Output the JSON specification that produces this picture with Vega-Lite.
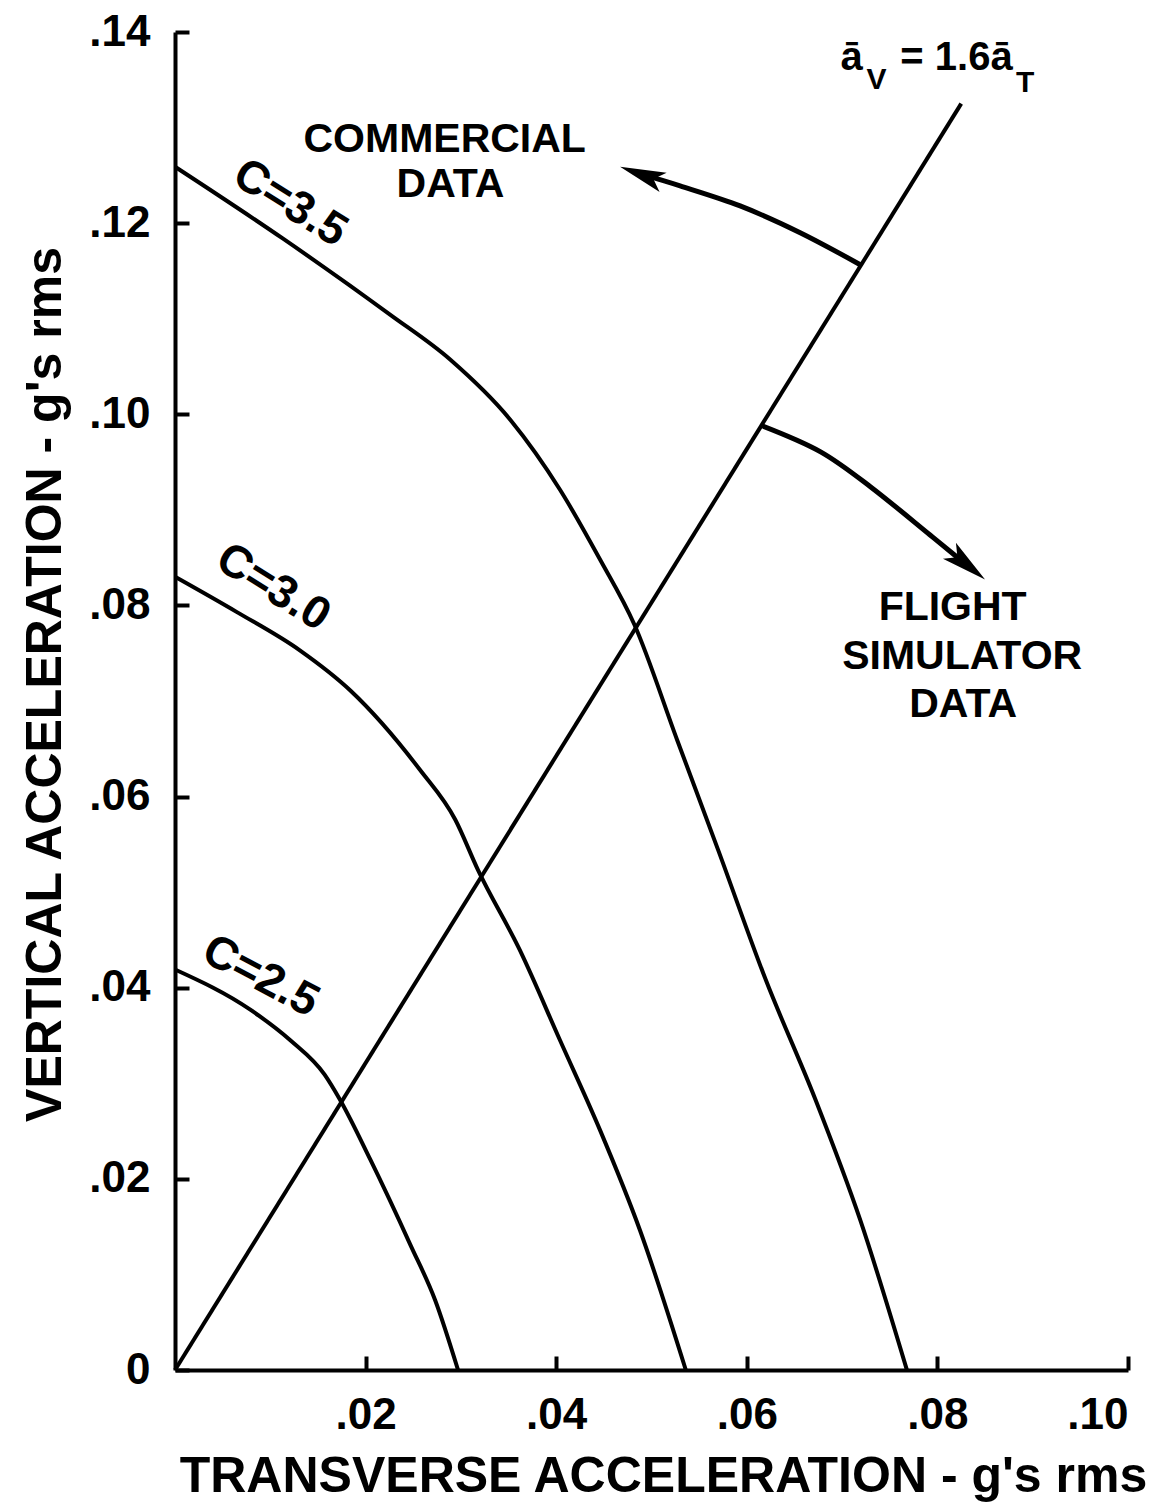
{
  "$schema": "https://vega.github.io/schema/vega-lite/v6.json",
  "autosize": {"type": "none"},
  "padding": {"left": 175, "top": 32, "right": 46, "bottom": 136},
  "width": 953,
  "height": 1338,
  "background": "white",
  "config": {
    "view": {"stroke": null},
    "font": "Liberation Sans",
    "axis": {
      "grid": false,
      "domainColor": "black",
      "domainWidth": 4,
      "tickColor": "black",
      "tickWidth": 4,
      "tickSize": -14,
      "labelColor": "black",
      "labelFont": "Liberation Sans",
      "labelFontWeight": "bold",
      "labelFontSize": 44,
      "titleColor": "black",
      "titleFont": "Liberation Sans",
      "titleFontWeight": "bold",
      "titleFontSize": 50
    },
    "text": {"font": "Liberation Sans", "fontWeight": "bold", "color": "black"}
  },
  "datasets": {
    "curves": [
      {"series": "C=3.5", "ord": 1, "x": 0, "y": 0.1259},
      {"series": "C=3.5", "ord": 2, "x": 0.0113, "y": 0.1184},
      {"series": "C=3.5", "ord": 3, "x": 0.0226, "y": 0.1104},
      {"series": "C=3.5", "ord": 4, "x": 0.0289, "y": 0.1057},
      {"series": "C=3.5", "ord": 5, "x": 0.0352, "y": 0.0994},
      {"series": "C=3.5", "ord": 6, "x": 0.0404, "y": 0.0921},
      {"series": "C=3.5", "ord": 7, "x": 0.0446, "y": 0.0848},
      {"series": "C=3.5", "ord": 8, "x": 0.0482, "y": 0.078},
      {"series": "C=3.5", "ord": 9, "x": 0.0527, "y": 0.0659},
      {"series": "C=3.5", "ord": 10, "x": 0.057, "y": 0.0544},
      {"series": "C=3.5", "ord": 11, "x": 0.062, "y": 0.0408},
      {"series": "C=3.5", "ord": 12, "x": 0.0672, "y": 0.0283},
      {"series": "C=3.5", "ord": 13, "x": 0.0719, "y": 0.0157},
      {"series": "C=3.5", "ord": 14, "x": 0.0768, "y": 0},
      {"series": "C=3.0", "ord": 1, "x": 0, "y": 0.083},
      {"series": "C=3.0", "ord": 2, "x": 0.0065, "y": 0.0793},
      {"series": "C=3.0", "ord": 3, "x": 0.0131, "y": 0.0753},
      {"series": "C=3.0", "ord": 4, "x": 0.0184, "y": 0.0711},
      {"series": "C=3.0", "ord": 5, "x": 0.0257, "y": 0.0628},
      {"series": "C=3.0", "ord": 6, "x": 0.0294, "y": 0.0576},
      {"series": "C=3.0", "ord": 7, "x": 0.0318, "y": 0.0523},
      {"series": "C=3.0", "ord": 8, "x": 0.0362, "y": 0.0439},
      {"series": "C=3.0", "ord": 9, "x": 0.0404, "y": 0.0345},
      {"series": "C=3.0", "ord": 10, "x": 0.0446, "y": 0.0251},
      {"series": "C=3.0", "ord": 11, "x": 0.0488, "y": 0.0146},
      {"series": "C=3.0", "ord": 12, "x": 0.0536, "y": 0},
      {"series": "C=2.5", "ord": 1, "x": 0, "y": 0.0419},
      {"series": "C=2.5", "ord": 2, "x": 0.0079, "y": 0.0377},
      {"series": "C=2.5", "ord": 3, "x": 0.0121, "y": 0.0345},
      {"series": "C=2.5", "ord": 4, "x": 0.0157, "y": 0.0309},
      {"series": "C=2.5", "ord": 5, "x": 0.0173, "y": 0.0283},
      {"series": "C=2.5", "ord": 6, "x": 0.0205, "y": 0.022},
      {"series": "C=2.5", "ord": 7, "x": 0.0247, "y": 0.0131},
      {"series": "C=2.5", "ord": 8, "x": 0.0273, "y": 0.0073},
      {"series": "C=2.5", "ord": 9, "x": 0.0297, "y": 0},
      {"series": "aV=1.6aT", "ord": 1, "x": 0, "y": 0},
      {"series": "aV=1.6aT", "ord": 2, "x": 0.0825, "y": 0.1325}
    ],
    "arrows": [
      {"arrow": "commercial", "ord": 1, "x": 0.072, "y": 0.1156},
      {"arrow": "commercial", "ord": 2, "x": 0.0656, "y": 0.119},
      {"arrow": "commercial", "ord": 3, "x": 0.0593, "y": 0.1218},
      {"arrow": "commercial", "ord": 4, "x": 0.053, "y": 0.1239},
      {"arrow": "commercial", "ord": 5, "x": 0.049, "y": 0.1251},
      {"arrow": "flight", "ord": 1, "x": 0.0616, "y": 0.0988},
      {"arrow": "flight", "ord": 2, "x": 0.0677, "y": 0.0961},
      {"arrow": "flight", "ord": 3, "x": 0.073, "y": 0.0924},
      {"arrow": "flight", "ord": 4, "x": 0.0792, "y": 0.0874},
      {"arrow": "flight", "ord": 5, "x": 0.0825, "y": 0.0847}
    ],
    "tips": [
      {"arrow": "commercial", "x": 0.0467, "y": 0.1259},
      {"arrow": "flight", "x": 0.085, "y": 0.0827}
    ],
    "labels": [
      {"text": "COMMERCIAL", "x": 0.0283, "y": 0.1287},
      {"text": "DATA", "x": 0.0289, "y": 0.124},
      {"text": "FLIGHT", "x": 0.0816, "y": 0.0797},
      {"text": "SIMULATOR", "x": 0.0826, "y": 0.0746},
      {"text": "DATA", "x": 0.0827, "y": 0.0696}
    ],
    "curveLabels": [
      {"text": "C=3.5", "x": 0.0121, "y": 0.1221},
      {"text": "C=3.0", "x": 0.0103, "y": 0.0819}
    ],
    "curveLabels2": [
      {"text": "C=2.5", "x": 0.009, "y": 0.0412}
    ],
    "eqMain": [
      {"text": "ā", "x": 0.071, "y": 0.1373},
      {"text": "= 1.6ā", "x": 0.082, "y": 0.1373}
    ],
    "eqSub": [
      {"text": "V", "x": 0.0736, "y": 0.135},
      {"text": "T", "x": 0.0892, "y": 0.1347}
    ]
  },
  "layer": [
    {
      "data": {"name": "curves"},
      "mark": {"type": "line", "color": "black", "strokeWidth": 4, "interpolate": "monotone"},
      "encoding": {
        "x": {
          "field": "x", "type": "quantitative",
          "scale": {"domain": [0, 0.1], "nice": false, "zero": false},
          "axis": {
            "values": [0.02, 0.04, 0.06, 0.08, 0.1],
            "labelExpr": "substring(format(datum.value, '.2f'), 1)",
            "labelPadding": 37,
            "title": "TRANSVERSE  ACCELERATION - g's rms",
            "titleX": 488,
            "titleY": 106,
            "titleBaseline": "middle"
          }
        },
        "y": {
          "field": "y", "type": "quantitative",
          "scale": {"domain": [0, 0.14], "nice": false, "zero": false},
          "axis": {
            "values": [0, 0.02, 0.04, 0.06, 0.08, 0.1, 0.12, 0.14],
            "labelExpr": "datum.value === 0 ? '0' : substring(format(datum.value, '.2f'), 1)",
            "labelPadding": 39,
            "title": "VERTICAL  ACCELERATION - g's rms",
            "titleAngle": -90,
            "titleX": -130,
            "titleY": 652,
            "titleAlign": "center",
            "titleBaseline": "middle"
          }
        },
        "detail": {"field": "series"},
        "order": {"field": "ord", "type": "quantitative"}
      }
    },
    {
      "data": {"name": "arrows"},
      "mark": {"type": "line", "color": "black", "strokeWidth": 5, "interpolate": "cardinal"},
      "encoding": {
        "x": {"field": "x", "type": "quantitative"},
        "y": {"field": "y", "type": "quantitative"},
        "detail": {"field": "arrow"},
        "order": {"field": "ord", "type": "quantitative"}
      }
    },
    {
      "data": {"name": "tips"},
      "transform": [{"filter": "datum.arrow === 'commercial'"}],
      "mark": {"type": "point", "shape": "M0,0L-0.45,2L0,1.55L0.45,2Z", "filled": true, "color": "black", "opacity": 1, "size": 2100, "angle": 290},
      "encoding": {
        "x": {"field": "x", "type": "quantitative"},
        "y": {"field": "y", "type": "quantitative"}
      }
    },
    {
      "data": {"name": "tips"},
      "transform": [{"filter": "datum.arrow === 'flight'"}],
      "mark": {"type": "point", "shape": "M0,0L-0.45,2L0,1.55L0.45,2Z", "filled": true, "color": "black", "opacity": 1, "size": 2100, "angle": 129},
      "encoding": {
        "x": {"field": "x", "type": "quantitative"},
        "y": {"field": "y", "type": "quantitative"}
      }
    },
    {
      "data": {"name": "labels"},
      "mark": {"type": "text", "fontSize": 41, "align": "center", "baseline": "middle"},
      "encoding": {
        "x": {"field": "x", "type": "quantitative"},
        "y": {"field": "y", "type": "quantitative"},
        "text": {"field": "text"}
      }
    },
    {
      "data": {"name": "curveLabels"},
      "mark": {"type": "text", "fontSize": 46, "align": "center", "baseline": "middle", "angle": 32},
      "encoding": {
        "x": {"field": "x", "type": "quantitative"},
        "y": {"field": "y", "type": "quantitative"},
        "text": {"field": "text"}
      }
    },
    {
      "data": {"name": "curveLabels2"},
      "mark": {"type": "text", "fontSize": 46, "align": "center", "baseline": "middle", "angle": 28},
      "encoding": {
        "x": {"field": "x", "type": "quantitative"},
        "y": {"field": "y", "type": "quantitative"},
        "text": {"field": "text"}
      }
    },
    {
      "data": {"name": "eqMain"},
      "mark": {"type": "text", "fontSize": 40, "align": "center", "baseline": "middle"},
      "encoding": {
        "x": {"field": "x", "type": "quantitative"},
        "y": {"field": "y", "type": "quantitative"},
        "text": {"field": "text"}
      }
    },
    {
      "data": {"name": "eqSub"},
      "mark": {"type": "text", "fontSize": 30, "align": "center", "baseline": "middle"},
      "encoding": {
        "x": {"field": "x", "type": "quantitative"},
        "y": {"field": "y", "type": "quantitative"},
        "text": {"field": "text"}
      }
    }
  ]
}
